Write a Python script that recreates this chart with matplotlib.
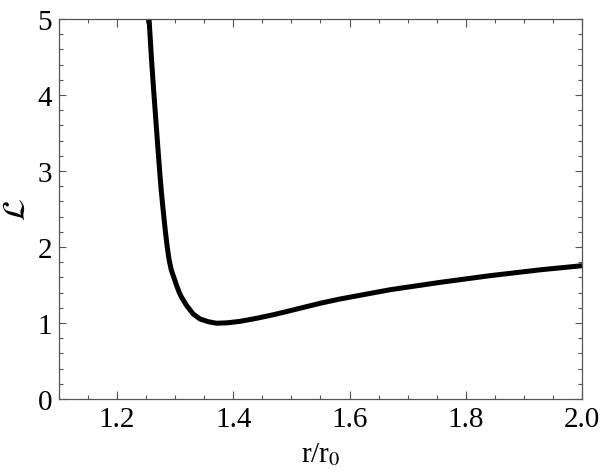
import matplotlib
matplotlib.use("Agg")
import matplotlib.pyplot as plt
from matplotlib.ticker import MultipleLocator, FormatStrFormatter

# values
r_vals = [1.255, 1.2592, 1.2635, 1.2695, 1.2732, 1.2758, 1.2782, 1.2826, 1.2860,
          1.2895, 1.2932, 1.2968, 1.3026, 1.307, 1.311, 1.3198, 1.331, 1.3427,
          1.357, 1.3714, 1.39, 1.4115, 1.44, 1.4689, 1.4976, 1.549, 1.5836,
          1.6697, 1.7558, 1.8418, 1.928, 2.0]
L_vals = [5.0, 4.47, 4.0, 3.377, 3.0, 2.76, 2.566, 2.24, 2.017,
          1.83, 1.70, 1.62, 1.49, 1.40, 1.338, 1.228, 1.118, 1.053,
          1.017, 0.997, 1.003, 1.022, 1.062, 1.109, 1.162, 1.259, 1.316,
          1.438, 1.535, 1.623, 1.70, 1.754]

plt.rcParams["font.family"] = ["Liberation Serif", "DejaVu Serif"]
plt.rcParams["mathtext.fontset"] = "stix"

fig = plt.figure(figsize=(6, 4.77), dpi=100)
ax = fig.add_axes([0.0983, 0.1614, 0.8717, 0.7966])

ax.plot(r_vals, L_vals, color="black", lw=3.6, solid_joinstyle="round",
        solid_capstyle="butt")

ax.set_xlim(1.1, 2.0)
ax.set_ylim(0, 5)

ax.xaxis.set_major_locator(MultipleLocator(0.2))
ax.xaxis.set_minor_locator(MultipleLocator(0.05))
ax.xaxis.set_major_formatter(FormatStrFormatter("%.1f"))
ax.yaxis.set_major_locator(MultipleLocator(1))
ax.yaxis.set_minor_locator(MultipleLocator(0.2))

gray = "#555555"
for s in ax.spines.values():
    s.set_color(gray)
    s.set_linewidth(0.9)

ax.tick_params(which="both", direction="in", top=True, right=True,
               color=gray, width=0.8, labelsize=21, labelcolor="black")
ax.tick_params(axis="x", which="major", length=5.5, pad=5)
ax.tick_params(axis="x", which="minor", length=3)
ax.tick_params(axis="y", which="major", length=5, pad=5)
ax.tick_params(axis="y", which="minor", length=2.7)

ax.set_xlabel(r"r/r$_0$", fontsize=21, labelpad=6)
ax.set_ylabel(r"$\mathcal{L}$", fontsize=23, labelpad=4)

fig.savefig("out.png", dpi=100)
